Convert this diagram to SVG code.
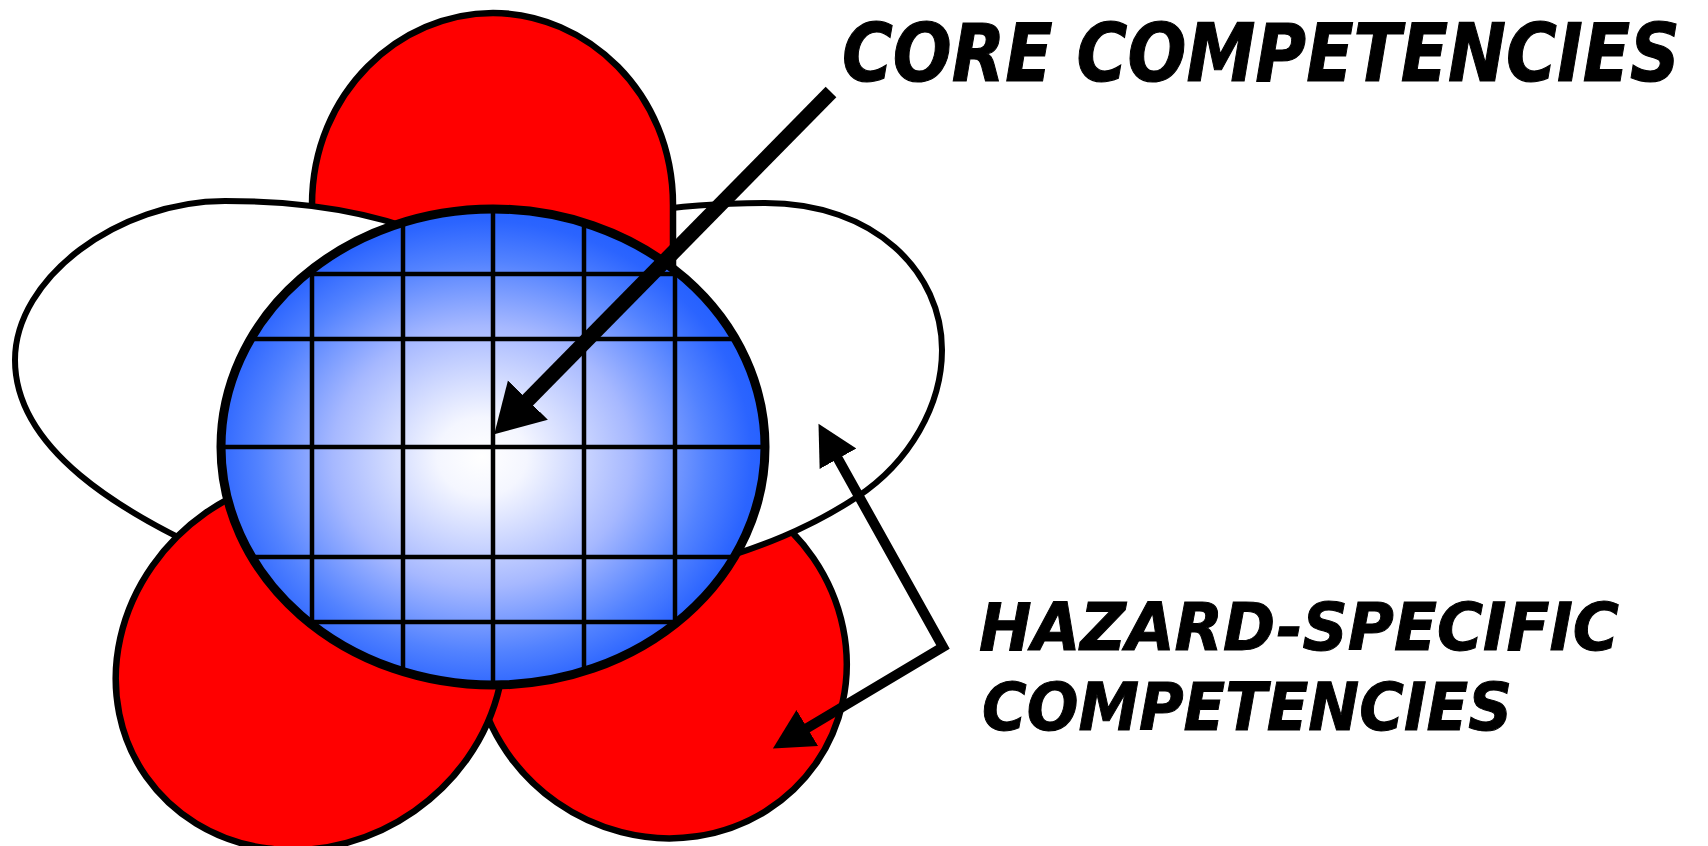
<svg xmlns="http://www.w3.org/2000/svg" width="1708" height="846" viewBox="0 0 1708 846">
  <defs>
    <style>
      .red { fill: #ff0000; stroke: #000; stroke-width: 6.5; }
      .white { fill: #ffffff; stroke: #000; stroke-width: 6; }
      .core-fill { fill: url(#blueGrad); }
      .core-outline { fill: none; stroke: #000; stroke-width: 9; }
      .grid line { stroke: #000; stroke-width: 4.5; }
      .arrow-big { fill: none; stroke: #000; stroke-width: 15; }
      .arrow { fill: none; stroke: #000; stroke-width: 10; stroke-linejoin: miter; }
      .label { font-family: "DejaVu Sans", Verdana, sans-serif; font-weight: bold; font-style: italic; fill: #000; stroke: #000; stroke-width: 1; }
    </style>
    <radialGradient id="blueGrad" cx="0.48" cy="0.52" r="0.55">
      <stop offset="0" stop-color="#ffffff"/>
      <stop offset="0.15" stop-color="#f4f6ff"/>
      <stop offset="0.5" stop-color="#a6b8ff"/>
      <stop offset="0.75" stop-color="#5282ff"/>
      <stop offset="0.9" stop-color="#2b64ff"/>
      <stop offset="1" stop-color="#1f5dff"/>
    </radialGradient>
    <clipPath id="coreClip">
      <ellipse cx="493" cy="447" rx="272" ry="238"/>
    </clipPath>
    <marker id="headBig" markerUnits="userSpaceOnUse" viewBox="0 -30 50 60" markerWidth="50" markerHeight="60" refX="1" refY="0" orient="auto">
      <path d="M0,-28 L48,0 L0,28 Z" fill="#000"/>
    </marker>
    <marker id="headSmall" markerUnits="userSpaceOnUse" viewBox="0 -23 42 46" markerWidth="42" markerHeight="46" refX="1" refY="0" orient="auto-start-reverse">
      <path d="M0,-21 L40,0 L0,21 Z" fill="#000"/>
    </marker>
  </defs>

  <rect x="0" y="0" width="1708" height="846" fill="#ffffff"/>

  <g id="petal-lower-right">
    <ellipse class="red" cx="660" cy="655" rx="190" ry="180" transform="rotate(35 660 655)"/>
  </g>
  <g id="petal-right">
    <path class="white" d="M540,245 C590,215 680,203 765,203 C875,203 942,272 942,350 C942,405 910,462 857,497 C810,528 760,548 700,565 L560,560 Z"/>
  </g>
  <g id="petal-top">
    <path class="red" d="M312,300 L312,205 C312,92 400,13 493,13 C586,13 673,92 673,205 L673,300 Z"/>
  </g>
  <g id="petal-left">
    <path class="white" d="M450,245 C395,218 320,201 225,201 C118,201 15,278 15,360 C15,445 110,512 250,570 L400,560 Z"/>
  </g>
  <g id="petal-lower-left">
    <ellipse class="red" cx="310" cy="662" rx="200" ry="182" transform="rotate(-35 310 662)"/>
  </g>

  <g id="core">
    <ellipse class="core-fill" cx="493" cy="447" rx="272" ry="238"/>
    <g class="grid" clip-path="url(#coreClip)">
      <line x1="312" y1="190" x2="312" y2="700"/>
      <line x1="403" y1="190" x2="403" y2="700"/>
      <line x1="493" y1="190" x2="493" y2="700"/>
      <line x1="584" y1="190" x2="584" y2="700"/>
      <line x1="675" y1="190" x2="675" y2="700"/>
      <line x1="200" y1="274" x2="790" y2="274"/>
      <line x1="200" y1="339" x2="790" y2="339"/>
      <line x1="200" y1="447" x2="790" y2="447"/>
      <line x1="200" y1="557" x2="790" y2="557"/>
      <line x1="200" y1="622" x2="790" y2="622"/>
    </g>
    <ellipse class="core-outline" cx="493" cy="447" rx="272" ry="238"/>
  </g>

  <g id="connectors">
    <path class="arrow-big" d="M831,92 L527.2,400.8" marker-end="url(#headBig)"/>
    <path class="arrow" d="M837.5,457.9 L943,647 L806.4,728.5" marker-start="url(#headSmall)" marker-end="url(#headSmall)"/>
  </g>

  <g id="label-core">
    <text class="label" transform="translate(842 81) scale(1 1.15)" x="0" y="0" font-size="70" textLength="838" lengthAdjust="spacingAndGlyphs">CORE COMPETENCIES</text>
  </g>
  <g id="label-hazard">
    <text class="label" x="979" y="650" font-size="65" textLength="640" lengthAdjust="spacingAndGlyphs">HAZARD-SPECIFIC</text>
    <text class="label" x="982" y="730" font-size="65" textLength="530" lengthAdjust="spacingAndGlyphs">COMPETENCIES</text>
  </g>
</svg>
